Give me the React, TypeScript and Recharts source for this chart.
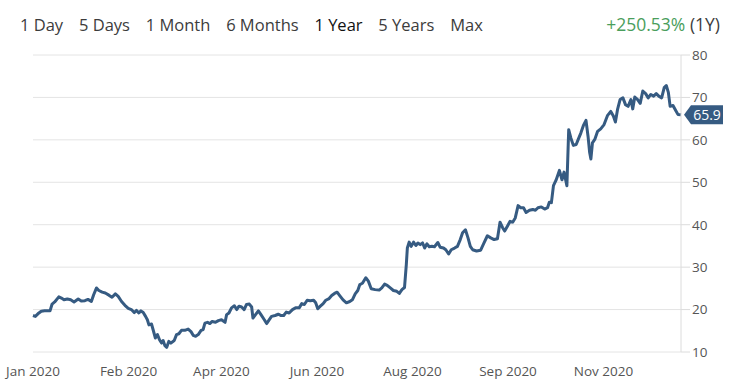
import React from 'react';
import { LineChart, Line, XAxis, YAxis, CartesianGrid, ReferenceDot } from 'recharts';

const rangeLabels = ['1 Day', '5 Days', '1 Month', '6 Months', '1 Year', '5 Years', 'Max'];
const selectedRange = '1 Year';
const changeText = '+250.53%';
const periodText = '(1Y)';

// trading-day index of each sample
const days = [
  0, 0.9, 1.9, 3.2, 4.5, 5.8, 6.6, 7.4, 8.4, 10.0,
  11.0, 12.0, 13.3, 14.6, 15.9, 17.5, 18.7, 20.1, 21.3, 22.6,
  23.5, 24.6, 25.5, 26.8, 28.0, 29.4, 30.6, 31.9, 33.0, 34.3,
  35.6, 36.9, 38.1, 39.2, 40.1, 41.0, 41.8, 42.7, 43.6, 44.3,
  44.9, 45.9, 46.5, 47.4, 48.2, 49.0, 49.8, 50.4, 51.1, 51.8,
  52.6, 53.4, 54.7, 55.6, 56.5, 57.5, 58.8, 60.1, 61.2, 62.1,
  63.0, 64.0, 65.1, 65.9, 66.6, 67.6, 68.5, 69.4, 70.7, 71.8,
  73.0, 74.4, 75.0, 75.9, 76.9, 78.0, 78.9, 79.8, 80.8, 81.8,
  82.7, 83.8, 84.7, 85.2, 86.2, 87.3, 88.3, 89.6, 90.5, 91.4,
  92.4, 93.8, 95.0, 96.1, 97.1, 98.1, 99.2, 100.5, 101.7, 103.1,
  104.1, 105.1, 106.2, 107.4, 108.7, 109.5, 110.3, 111.3, 112.4, 113.4,
  114.7, 115.7, 116.8, 117.8, 118.8, 120.1, 121.4, 122.7, 123.7, 124.8,
  125.8, 126.6, 127.6, 128.9, 129.9, 131.0, 132.5, 134.1, 135.1, 136.2,
  137.2, 138.4, 139.6, 140.9, 141.9, 142.9, 143.9, 144.6, 145.0, 145.7,
  146.5, 147.4, 148.3, 149.1, 150.0, 150.9, 151.7, 152.6, 153.5, 154.5,
  155.5, 156.8, 157.7, 159.0, 159.9, 161.0, 162.0, 163.3, 164.4, 165.5,
  166.4, 167.5, 168.5, 169.4, 170.3, 171.8, 173.4, 174.7, 176.0, 177.3,
  178.6, 179.9, 180.9, 181.9, 182.7, 183.7, 184.8, 185.8, 186.8, 187.9,
  188.9, 190.0, 191.0, 192.3, 193.6, 194.6, 195.6, 196.9, 198.2, 199.3,
  200.0, 200.8, 201.6, 202.6, 203.9, 204.9, 205.7, 206.8, 207.5, 208.3,
  209.3, 210.4, 211.2, 212.2, 213.2, 214.2, 215.0, 215.6, 216.1, 216.7,
  217.6, 218.7, 219.9, 221.2, 222.5, 223.8, 224.8, 225.6, 226.4, 227.4,
  228.5, 229.5, 230.5, 231.6, 232.3, 233.1, 234.2, 235.2, 236.2, 237.3,
  238.3, 239.3, 240.4, 241.4, 242.4, 243.5, 244.5, 245.3, 246.1, 246.8,
  247.9, 248.9, 249.8, 251.0,
];

const prices = [
  18.6, 18.4, 19.0, 19.6, 19.7, 19.7, 19.7, 21.3, 21.8, 23.0,
  22.7, 22.3, 22.5, 22.3, 21.8, 22.5, 22.0, 22.1, 22.4, 21.9,
  23.5, 25.1, 24.5, 24.1, 23.9, 23.4, 22.9, 23.7, 23.1, 21.9,
  21.0, 20.3, 20.0, 19.3, 19.8, 19.2, 19.7, 19.3, 18.4, 17.6,
  16.4, 16.6, 15.3, 13.3, 14.1, 12.9, 12.1, 12.7, 11.5, 11.1,
  12.5, 12.1, 12.7, 14.1, 14.3, 15.1, 15.1, 15.4, 14.8, 13.9,
  13.7, 14.1, 15.1, 15.3, 16.8, 17.0, 16.7, 17.2, 17.0, 17.4,
  17.6, 17.0, 18.8, 19.2, 20.4, 20.9, 20.0, 20.8, 20.6, 20.0,
  21.2, 21.3, 20.6, 18.0, 18.8, 19.7, 18.8, 17.6, 16.7, 17.5,
  18.4, 18.6, 18.9, 18.6, 18.6, 19.4, 19.2, 20.0, 20.4, 20.4,
  21.4, 21.2, 22.2, 22.1, 22.2, 21.6, 20.2, 20.8, 21.4, 22.2,
  22.6, 23.3, 23.8, 24.1, 23.3, 22.3, 21.6, 21.9, 22.3, 23.7,
  24.5, 25.9, 26.2, 27.5, 26.7, 24.9, 24.7, 24.6, 25.1, 26.0,
  25.7, 25.1, 24.5, 24.3, 23.8, 24.7, 25.2, 30.6, 34.5, 35.9,
  34.9, 35.9, 35.1, 35.7, 35.3, 35.7, 34.5, 35.5, 34.8, 34.9,
  34.8, 35.8, 34.7, 34.5, 34.1, 33.1, 34.1, 34.5, 34.9, 36.5,
  38.1, 38.8, 36.9, 34.9, 34.1, 33.8, 34.0, 35.7, 37.4, 36.9,
  36.5, 36.7, 40.6, 39.3, 38.5, 39.6, 40.8, 40.6, 41.6, 44.5,
  44.0, 44.0, 42.9, 43.4, 43.6, 43.4, 44.0, 44.2, 43.7, 44.0,
  45.3, 45.2, 49.2, 50.5, 52.8, 50.6, 52.4, 49.2, 62.4, 60.5,
  58.7, 58.9, 60.1, 61.6, 63.4, 64.6, 60.8, 57.1, 55.5, 59.3,
  60.1, 62.0, 62.6, 63.6, 65.7, 66.7, 65.6, 64.2, 67.1, 69.5,
  69.9, 68.3, 67.9, 69.5, 67.3, 70.1, 69.5, 68.6, 71.5, 70.9,
  69.9, 70.7, 70.3, 70.9, 70.3, 69.9, 72.3, 72.8, 71.2, 67.9,
  68.1, 67.0, 66.0, 65.9,
];

const xTickDays = [0, 37, 73, 110, 147, 184, 221];
const xTickLabels = ['Jan 2020', 'Feb 2020', 'Apr 2020', 'Jun 2020', 'Aug 2020', 'Sep 2020', 'Nov 2020'];
const yTicks = [10, 20, 30, 40, 50, 60, 70, 80];
const lastPriceLabel = '65.9';

const data = days.map((d, i) => ({ day: d, price: prices[i] }));
const lastDay = days[days.length - 1];
const lastPrice = prices[prices.length - 1];

const FONT = "'Segoe UI', 'Open Sans', 'Noto Sans', sans-serif";
const LINE_COLOR = '#365b82';

const Badge = (props: any) => {
  const { cx, cy } = props;
  if (cx == null || cy == null) return null;
  const pts = [
    [cx + 3, cy],
    [cx + 10, cy - 9.5],
    [cx + 42, cy - 9.5],
    [cx + 42, cy + 9.5],
    [cx + 10, cy + 9.5],
  ]
    .map((p) => p.join(','))
    .join(' ');
  return (
    <g>
      <polygon points={pts} fill={LINE_COLOR} />
      <text
        x={cx + 26}
        y={cy}
        fill="#ffffff"
        fontSize={14}
        fontFamily={FONT}
        textAnchor="middle"
        dominantBaseline="central"
      >
        {lastPriceLabel}
      </text>
    </g>
  );
};

export default function App() {
  return (
    <div
      style={{
        position: 'absolute',
        left: 0,
        top: 0,
        width: 731,
        height: 391,
        background: '#ffffff',
        fontFamily: FONT,
        overflow: 'hidden',
      }}
    >
      <div
        style={{
          position: 'absolute',
          left: 20,
          top: 13,
          display: 'flex',
          fontSize: 16.5,
          whiteSpace: 'nowrap',
        }}
      >
        {rangeLabels.map((r) => (
          <span
            key={r}
            style={{ marginRight: 15.8, color: r === selectedRange ? '#111111' : '#3c3c3c' }}
          >
            {r}
          </span>
        ))}
      </div>
      <div
        style={{
          position: 'absolute',
          right: 11,
          top: 12,
          fontSize: 17.5,
          whiteSpace: 'nowrap',
        }}
      >
        <span style={{ color: '#4a9e5c' }}>{changeText}</span>
        <span style={{ color: '#3c3c3c' }}> {periodText}</span>
      </div>
      <div style={{ position: 'absolute', left: 0, top: 0 }}>
        <LineChart
          width={731}
          height={391}
          data={data}
          margin={{ top: 55, right: 0, bottom: 0, left: 33 }}
        >
          <CartesianGrid vertical={false} stroke="#e4e4e4" />
          <XAxis
            dataKey="day"
            type="number"
            domain={[0, 251]}
            ticks={xTickDays}
            interval={0}
            tickFormatter={(v: number) => xTickLabels[xTickDays.indexOf(v)] ?? ''}
            axisLine={false}
            tickLine={false}
            tickSize={0}
            tickMargin={14}
            height={39}
            tick={{ fill: '#555555', fontSize: 13.5, fontFamily: FONT }}
          />
          <YAxis
            orientation="right"
            domain={[10, 80]}
            ticks={yTicks}
            interval={0}
            width={50}
            axisLine={{ stroke: '#dcdcdc' }}
            tickLine={{ stroke: '#dcdcdc' }}
            tickSize={9}
            tickMargin={2}
            tick={{ fill: '#555555', fontSize: 13.5, fontFamily: FONT }}
          />
          <Line
            type="linear"
            dataKey="price"
            stroke={LINE_COLOR}
            strokeWidth={3}
            strokeLinejoin="round"
            dot={false}
            activeDot={false}
            isAnimationActive={false}
          />
          <ReferenceDot x={lastDay} y={lastPrice} ifOverflow="visible" shape={Badge} />
        </LineChart>
      </div>
    </div>
  );
}
